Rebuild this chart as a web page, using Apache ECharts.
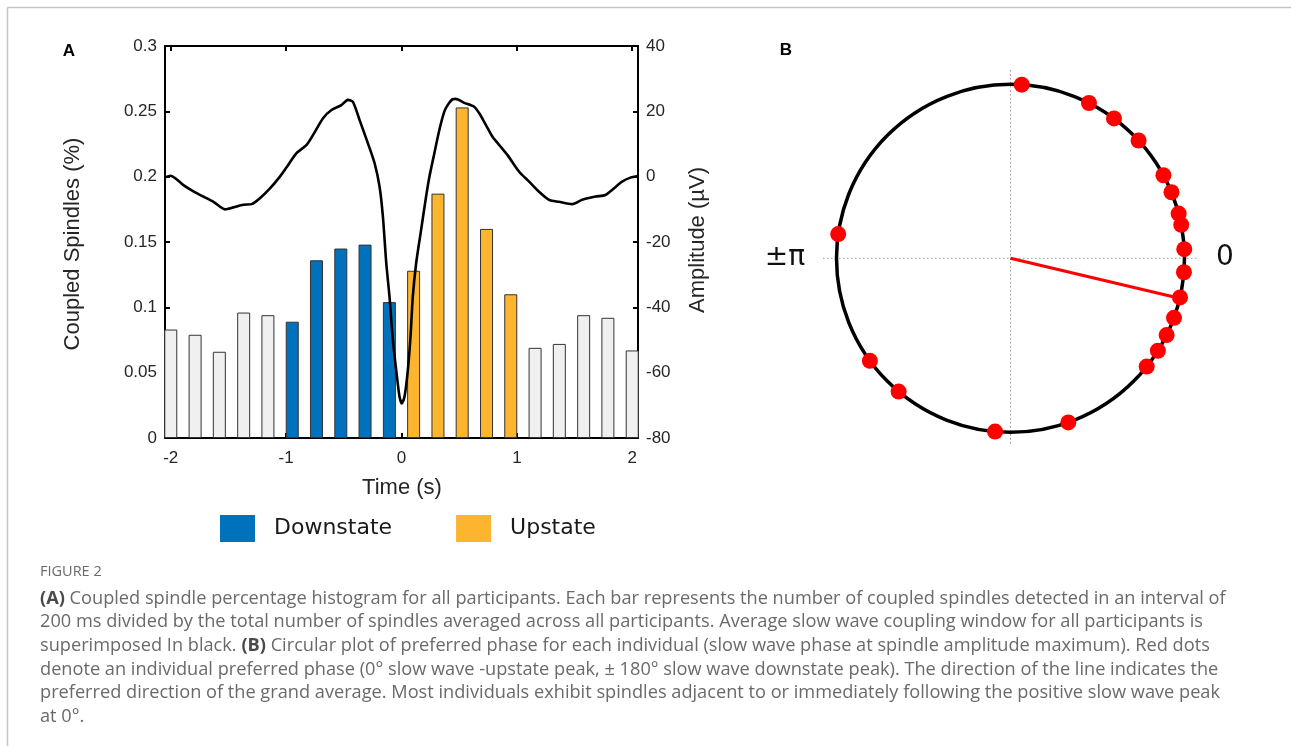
<!DOCTYPE html>
<html>
<head>
<meta charset="utf-8">
<script src="https://cdn.jsdelivr.net/npm/echarts@6/dist/echarts.min.js"></script>
<style>
html,body{margin:0;padding:0;background:#fff;}
#chart{width:1291px;height:746px;}
</style>
</head>
<body>
<div id="chart"></div>
<script>
// ---- Panel A data ----
const binCenters = [-2.0, -1.789, -1.579, -1.368, -1.158, -0.947, -0.737, -0.526, -0.316, -0.105,
                    0.105, 0.316, 0.526, 0.737, 0.947, 1.158, 1.368, 1.579, 1.789, 2.0];
const binGroup = ['other','other','other','other','other','down','down','down','down','down',
                  'up','up','up','up','up','other','other','other','other','other'];
const coupledPct = [0.083, 0.079, 0.066, 0.096, 0.094, 0.089, 0.136, 0.145, 0.148, 0.104,
                    0.128, 0.187, 0.253, 0.160, 0.110, 0.069, 0.072, 0.094, 0.092, 0.067];
const xTicks = [-2, -1, 0, 1, 2];
const swTime = [-2.05, -2.0, -1.95, -1.89, -1.80, -1.717, -1.63, -1.529, -1.457, -1.371, -1.299, -1.227,
  -1.14, -1.054, -0.982, -0.91, -0.823, -0.766, -0.68, -0.607, -0.521, -0.464, -0.421, -0.363,
  -0.291, -0.233, -0.19, -0.161, -0.132, -0.104, -0.075, -0.046, -0.017, 0.003, 0.026, 0.055,
  0.078, 0.098, 0.127, 0.17, 0.213, 0.242, 0.285, 0.328, 0.371, 0.40, 0.443, 0.47, 0.544, 0.63,
  0.674, 0.732, 0.789, 0.847, 0.919, 1.02, 1.106, 1.192, 1.279, 1.365, 1.48, 1.566, 1.682,
  1.768, 1.84, 1.912, 1.984, 2.05];
const swAmp = [-0.2, 0.3, -0.8, -2.6, -4.6, -6.1, -7.7, -10.0, -9.4, -8.6, -8.4, -6.6,
  -3.6, 0.0, 3.6, 7.2, 9.7, 12.8, 17.9, 20.4, 21.9, 23.5, 22.9, 17.3,
  10.2, 4.1, -3.1, -12.3, -26.5, -36.7, -50.0, -59.2, -67.4, -69.4, -67.4, -59.2,
  -49.0, -36.7, -26.5, -16.3, -6.1, 0.0, 7.2, 14.3, 19.9, 21.9, 23.7, 23.8, 22.6, 21.4,
  19.4, 15.8, 12.2, 9.7, 6.6, 1.5, -1.5, -4.6, -7.1, -7.7, -8.4, -7.1, -6.1,
  -5.6, -3.6, -1.5, -0.3, 0.2];

// ---- Panel B data (angles in degrees, 0 = upstate peak, ±180 = downstate peak) ----
const phaseDeg = [86.3, 63.2, 53.5, 42.6, 28.5, 22.3, 14.9, 11.1, 3.0, 172.0,
                  -4.6, -13.0, -20.0, -26.2, -32.1, -38.5, -70.6, -95.1, -130.0, -143.9];
const meanPhaseDeg = -13.3;
const meanLength = 0.96;

const colors = {other:'#f0f0f0', down:'#0072BD', up:'#FDB52F'};
const tickFont = {fontFamily:'Liberation Sans, Arial, sans-serif', fontSize:17, color:'#262626'};
const capFont = 'Open Sans';
const capSize = 18.2;
const capColor = '#6a6a6a';

function barData(group){
  return binCenters.map((x,i)=> binGroup[i]===group ? [x, coupledPct[i]] : null).filter(d=>d);
}
function barSeries(name, group){
  return {name:name, type:'bar', xAxisIndex:0, yAxisIndex:0, barWidth:13, barGap:'-100%', z:2,
    data:barData(group), itemStyle:{color:colors[group], borderColor:'#333', borderWidth:1}};
}
const richCap = {b:{fontFamily:capFont, fontWeight:'bold', fontSize:capSize, fill:'#4a4a4a'},
                 n:{fontFamily:capFont, fontSize:capSize, fill:capColor}};
function capLine(y, text, rich){
  const st = rich ? {rich:richCap, text:text, verticalAlign:'middle'}
                  : {text:text, fontFamily:capFont, fontSize:capSize, fill:capColor, verticalAlign:'middle'};
  return {type:'text', x:40, y:y, style:st, silent:true};
}

const chart = echarts.init(document.getElementById('chart'), null, {renderer:'canvas'});
const axisLineStyle = {lineStyle:{color:'#000', width:2}};
const option = {
  animation:false,
  backgroundColor:'#fff',
  grid:{left:165, top:46, width:473, height:392, containLabel:false},
  xAxis:[
    {type:'value', position:'bottom', min:-2.05, max:2.05,
     axisLine:Object.assign({onZero:false, show:true}, axisLineStyle),
     axisTick:{show:true, inside:true, length:5, customValues:xTicks, lineStyle:{color:'#000', width:2}},
     axisLabel:Object.assign({show:true, margin:12, customValues:xTicks}, tickFont),
     splitLine:{show:false}},
    {type:'value', position:'top', min:-2.05, max:2.05,
     axisLine:Object.assign({onZero:false, show:true}, axisLineStyle),
     axisTick:{show:true, inside:true, length:5, customValues:xTicks, lineStyle:{color:'#000', width:2}},
     axisLabel:{show:false}, splitLine:{show:false}}
  ],
  yAxis:[
    {type:'value', position:'left', min:0, max:0.3, interval:0.05,
     axisLine:Object.assign({show:true, onZero:false}, axisLineStyle),
     axisTick:{show:true, inside:true, length:5, lineStyle:{color:'#000', width:2}},
     axisLabel:Object.assign({margin:8}, tickFont), splitLine:{show:false}},
    {type:'value', position:'right', min:-80, max:40, interval:20,
     axisLine:Object.assign({show:true, onZero:false}, axisLineStyle),
     axisTick:{show:true, inside:true, length:5, lineStyle:{color:'#000', width:2}},
     axisLabel:Object.assign({margin:8}, tickFont), splitLine:{show:false}}
  ],
  polar:{center:[1010.5, 258.3], radius:174},
  angleAxis:{type:'value', min:-180, max:180, startAngle:180, clockwise:false,
    axisLine:{show:true, lineStyle:{color:'#000', width:3.5}},
    axisTick:{show:false}, axisLabel:{show:false}, splitLine:{show:false}, splitArea:{show:false}},
  radiusAxis:{type:'value', min:0, max:1, axisLine:{show:false}, axisTick:{show:false},
    axisLabel:{show:false}, splitLine:{show:false}},
  legend:{show:true, left:220, top:515, padding:0, orient:'horizontal', itemWidth:35, itemHeight:27, itemGap:64,
    icon:'rect', itemStyle:{borderWidth:0},
    data:['Downstate','Upstate'],
    textStyle:{fontFamily:'DejaVu Sans', fontSize:22, color:'#1a1a1a', padding:[0,0,0,14]}},
  series:[
    barSeries('Other', 'other'),
    barSeries('Downstate', 'down'),
    barSeries('Upstate', 'up'),
    {name:'Slow wave', type:'line', xAxisIndex:0, yAxisIndex:1, data:swTime.map((t,i)=>[t, swAmp[i]]),
     showSymbol:false, smooth:0.25, lineStyle:{color:'#000', width:2.6}, z:5},
    {name:'Mean direction', type:'line', coordinateSystem:'polar',
     data:[[0, meanPhaseDeg],[meanLength, meanPhaseDeg]], showSymbol:false,
     lineStyle:{color:'#ff0000', width:3}, z:4},
    {name:'Individual phase', type:'scatter', coordinateSystem:'polar',
     data:phaseDeg.map(a=>[1, a]), symbolSize:16, itemStyle:{color:'#ff0000', opacity:1}, z:6}
  ],
  graphic:[
    {type:'line', shape:{x1:7.5, y1:7.5, x2:1291, y2:7.5}, style:{stroke:'#c4c4c4', lineWidth:1.5}, silent:true},
    {type:'line', shape:{x1:7.5, y1:7.5, x2:7.5, y2:746}, style:{stroke:'#c4c4c4', lineWidth:1.5}, silent:true},
    {type:'text', x:69, y:51, style:{text:'A', fontFamily:'Liberation Sans, Arial', fontWeight:'bold', fontSize:17, fill:'#000', align:'center', verticalAlign:'middle'}},
    {type:'text', x:786, y:50, style:{text:'B', fontFamily:'Liberation Sans, Arial', fontWeight:'bold', fontSize:17, fill:'#000', align:'center', verticalAlign:'middle'}},
    {type:'text', x:73, y:244, rotation:Math.PI/2, style:{text:'Coupled Spindles (%)', fontFamily:'Liberation Sans, Arial', fontSize:22, fill:'#262626', align:'center', verticalAlign:'middle'}},
    {type:'text', x:698, y:240, rotation:Math.PI/2, style:{text:'Amplitude (µV)', fontFamily:'Liberation Sans, Arial', fontSize:22, fill:'#262626', align:'center', verticalAlign:'middle'}},
    {type:'text', x:402, y:488, style:{text:'Time (s)', fontFamily:'Liberation Sans, Arial', fontSize:22, fill:'#262626', align:'center', verticalAlign:'middle'}},
    {type:'line', z:-1, shape:{x1:823, y1:258.3, x2:1198, y2:258.3}, style:{stroke:'#999', lineWidth:1, lineDash:[1.5,2.5]}, silent:true},
    {type:'line', z:-1, shape:{x1:1010.5, y1:70, x2:1010.5, y2:446}, style:{stroke:'#999', lineWidth:1, lineDash:[1.5,2.5]}, silent:true},
    {type:'text', x:785, y:258, style:{text:'±π', fontFamily:'DejaVu Sans', fontSize:28, fill:'#111', align:'center', verticalAlign:'middle'}},
    {type:'text', x:1225, y:258, style:{text:'0', fontFamily:'DejaVu Sans', fontSize:28, fill:'#111', align:'center', verticalAlign:'middle'}},
    {type:'text', x:40, y:572, style:{text:'FIGURE 2', fontFamily:capFont, fontSize:14.5, fill:capColor, verticalAlign:'middle'}},
    capLine(599, '{b|(A)}{n| Coupled spindle percentage histogram for all participants. Each bar represents the number of coupled spindles detected in an interval of}', true),
    capLine(622, '200 ms divided by the total number of spindles averaged across all participants. Average slow wave coupling window for all participants is'),
    capLine(646, '{n|superimposed In black. }{b|(B)}{n| Circular plot of preferred phase for each individual (slow wave phase at spindle amplitude maximum). Red dots}', true),
    capLine(670, 'denote an individual preferred phase (0° slow wave -upstate peak, ± 180° slow wave downstate peak). The direction of the line indicates the'),
    capLine(693, 'preferred direction of the grand average. Most individuals exhibit spindles adjacent to or immediately following the positive slow wave peak'),
    capLine(717, 'at 0°.')
  ]
};
chart.setOption(option);
</script>
</body>
</html>
